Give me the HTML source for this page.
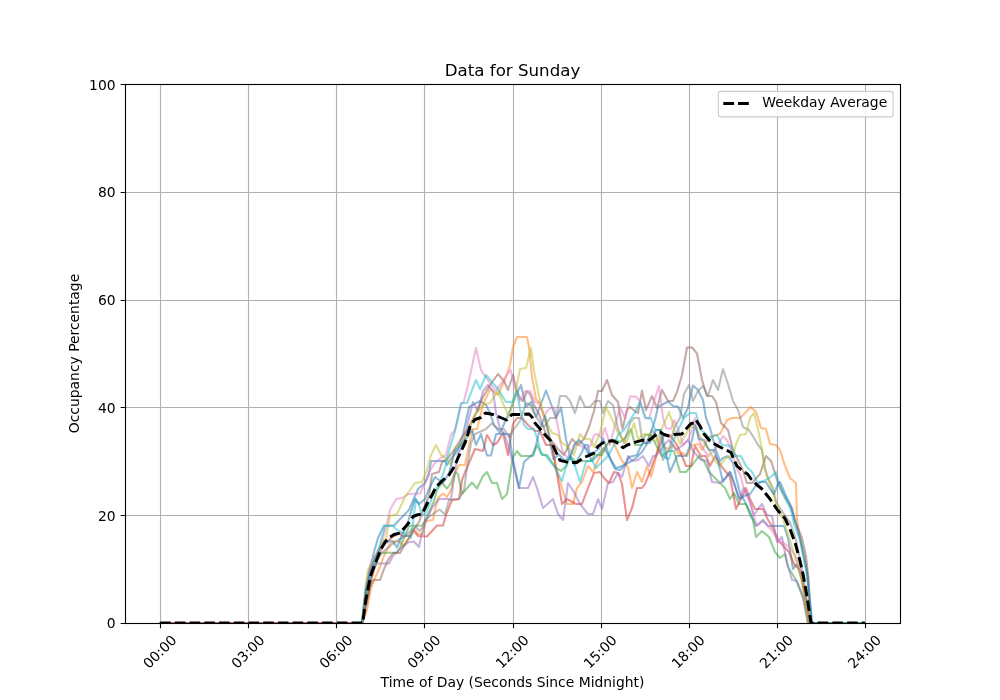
<!DOCTYPE html>
<html lang="en"><head><meta charset="utf-8"><title>Data for Sunday</title>
<style>html,body{margin:0;padding:0;background:#fff;}body{width:1000px;height:700px;overflow:hidden;}svg{display:block;}text{font-family:"DejaVu Sans","Liberation Sans",sans-serif;fill:#000;}</style></head><body>
<svg width="1000" height="700" viewBox="0 0 1000 700">
<rect width="1000" height="700" fill="#fff"/>
<path d="M160.50 623.0V84.0M248.50 623.0V84.0M336.50 623.0V84.0M424.50 623.0V84.0M513.50 623.0V84.0M601.50 623.0V84.0M689.50 623.0V84.0M777.50 623.0V84.0M865.50 623.0V84.0M125.0 623.50H900.0M125.0 515.50H900.0M125.0 407.50H900.0M125.0 300.50H900.0M125.0 192.50H900.0M125.0 84.50H900.0" stroke="#b0b0b0" stroke-width="1.11" fill="none"/>
<path d="M160.50 623.5v4.86M248.50 623.5v4.86M336.50 623.5v4.86M424.50 623.5v4.86M513.50 623.5v4.86M601.50 623.5v4.86M689.50 623.5v4.86M777.50 623.5v4.86M865.50 623.5v4.86M125.5 623.50h-4.86M125.5 515.50h-4.86M125.5 407.50h-4.86M125.5 300.50h-4.86M125.5 192.50h-4.86M125.5 84.50h-4.86" stroke="#000" stroke-width="1.11" fill="none"/>
<defs><clipPath id="c"><rect x="125.0" y="84.0" width="775.0" height="539.0"/></clipPath></defs>
<g clip-path="url(#c)" fill="none" stroke-linejoin="round" stroke-linecap="square">
<path d="M160.2 623.0 362.0 623.0 366.0 588.0 370.0 568.0 374.0 552.0 378.0 538.0 384.0 525.5 394.0 525.5 405.0 514.0 409.0 510.0 418.0 489.0 425.0 483.0 429.0 474.0 431.0 461.0 445.0 461.0 447.0 465.0 450.0 460.0 458.0 450.0 463.0 435.0 469.0 407.0 480.0 401.0 486.0 405.0 490.0 413.0 494.0 425.0 500.0 433.0 509.0 413.0 516.0 395.0 521.0 385.0 526.0 407.0 531.0 402.0 536.0 417.0 541.0 404.0 546.0 390.5 551.0 404.0 556.0 418.0 561.0 407.5 566.0 439.0 570.0 457.0 575.0 465.0 579.0 457.0 582.0 452.0 585.0 445.0 588.0 445.0 590.0 457.0 592.0 461.0 598.0 455.0 604.0 448.0 610.0 458.0 616.0 468.0 622.0 466.0 630.0 462.0 636.0 458.0 642.0 452.0 647.0 444.0 651.0 432.0 655.0 420.0 658.0 407.0 668.0 401.5 673.0 406.0 678.0 406.5 683.0 418.0 688.0 408.0 689.5 400.0 693.0 385.5 698.0 390.0 703.0 400.0 706.0 418.0 710.0 428.0 716.0 450.0 720.0 461.0 723.0 458.0 728.0 456.0 733.0 463.0 736.0 477.0 740.0 493.0 744.0 500.0 750.0 512.0 756.0 526.0 763.0 520.0 768.0 526.0 784.0 526.0 788.0 538.0 793.0 569.0 797.0 564.0 802.0 580.0 806.0 602.0 809.0 623.0 864.8 623.0" stroke="#1f77b4" stroke-opacity="0.5" stroke-width="2.08"/>
<path d="M160.2 623.0 362.0 623.0 367.0 610.0 371.0 588.0 375.0 578.0 379.0 569.0 384.0 556.0 390.0 544.0 393.0 541.5 400.0 541.5 403.0 546.0 409.0 538.0 412.0 530.0 415.0 530.0 418.0 534.0 423.0 534.0 426.0 521.0 433.0 520.0 436.0 506.0 438.0 498.0 443.0 493.5 447.0 497.0 451.0 490.0 455.0 474.0 459.0 465.0 465.0 465.0 469.0 445.0 473.0 429.0 477.0 429.0 483.0 405.0 490.0 389.0 498.0 395.0 506.0 377.0 510.0 365.0 513.0 347.0 517.0 337.0 527.0 337.0 529.0 347.0 532.0 377.0 536.0 399.0 540.0 403.0 544.0 417.0 548.0 431.0 552.0 445.0 556.0 468.0 562.0 488.0 567.0 504.0 573.0 504.0 577.0 488.0 582.0 482.0 588.0 466.0 593.0 472.0 600.0 456.0 606.0 445.0 612.0 440.0 617.0 450.0 622.0 461.0 628.0 467.0 632.0 488.0 637.0 472.0 642.0 482.0 647.0 466.0 651.0 477.0 656.0 458.0 660.0 437.0 664.0 447.0 668.0 449.0 674.0 445.0 679.0 455.0 683.0 453.0 687.0 456.0 692.0 445.0 699.0 444.0 702.0 450.0 709.0 437.0 720.0 434.0 727.0 420.0 732.0 418.0 740.0 418.0 746.0 412.0 751.0 407.0 756.0 412.0 761.0 428.0 766.0 429.0 770.0 444.0 776.0 445.0 780.0 450.0 785.0 466.0 790.0 478.0 796.0 483.0 797.0 520.0 800.0 538.0 804.0 556.0 807.0 570.0 810.0 623.0 864.8 623.0" stroke="#ff7f0e" stroke-opacity="0.5" stroke-width="2.08"/>
<path d="M160.2 623.0 362.0 623.0 367.0 598.0 372.0 576.0 377.0 562.0 380.0 553.0 397.0 552.5 400.0 548.0 404.0 538.0 409.0 526.0 422.0 525.5 425.0 521.0 430.0 510.0 434.0 501.0 437.0 490.0 442.0 483.0 447.0 488.5 451.0 483.0 455.0 472.0 458.0 474.0 462.0 494.0 472.0 482.5 477.0 488.5 483.0 476.0 487.0 472.0 492.0 483.0 497.0 483.0 502.0 499.0 507.0 494.0 513.0 457.0 517.0 451.0 521.0 456.0 533.0 456.0 537.0 445.0 542.0 455.0 547.0 455.0 555.0 467.0 561.0 471.0 567.0 465.0 570.0 456.0 575.0 461.0 591.0 461.0 595.0 455.0 602.0 455.0 607.0 445.0 611.0 440.0 615.0 440.0 620.0 442.0 625.0 438.0 631.0 429.0 635.0 445.0 642.0 445.0 645.0 435.0 651.0 435.0 656.0 445.0 662.0 456.0 668.0 451.0 674.0 451.0 680.0 472.0 686.0 472.0 693.0 464.0 699.0 456.0 704.0 461.0 709.0 472.0 714.0 477.0 720.0 483.0 725.0 488.0 730.0 499.0 734.0 493.0 739.0 504.0 746.0 504.0 750.0 515.0 753.0 520.0 756.0 537.0 762.0 531.0 769.0 537.0 775.0 552.0 780.0 558.0 785.0 554.0 788.0 567.0 796.0 580.0 804.0 600.0 808.0 623.0 864.8 623.0" stroke="#2ca02c" stroke-opacity="0.5" stroke-width="2.08"/>
<path d="M160.2 623.0 362.0 623.0 367.0 598.0 371.0 580.0 376.0 562.0 381.0 550.0 385.0 543.0 389.0 540.0 394.0 536.0 400.0 533.0 402.0 536.0 410.0 536.0 414.0 531.0 418.0 536.0 427.0 536.5 437.0 525.5 443.0 525.5 446.0 515.0 452.0 500.0 459.0 499.0 462.0 480.0 466.0 470.0 475.0 449.0 483.0 451.0 487.0 435.0 493.0 445.0 497.0 443.0 503.0 433.0 508.0 455.0 513.0 424.0 517.0 418.0 522.0 418.0 528.0 425.0 535.0 431.0 540.0 431.0 546.0 445.0 552.0 445.0 557.0 474.0 562.0 504.0 567.0 499.0 576.0 504.0 582.0 504.0 588.0 488.0 594.0 473.0 600.0 472.0 604.0 478.0 609.0 483.0 614.0 472.0 618.0 473.0 622.0 484.0 627.0 520.0 632.0 508.0 637.0 488.0 642.0 488.0 645.0 484.0 650.0 472.0 653.0 463.0 658.0 450.0 664.0 435.0 670.0 435.0 677.0 445.0 682.0 456.0 686.0 466.0 691.0 466.0 695.0 446.0 701.0 456.0 706.0 456.0 710.0 466.0 715.0 456.0 722.0 467.0 726.0 472.0 730.0 477.0 736.0 509.0 741.0 499.0 746.0 488.0 750.0 499.0 755.0 509.0 763.0 509.0 768.0 520.0 772.0 526.0 778.0 540.0 789.0 552.0 794.0 564.0 800.0 570.0 804.0 590.0 809.0 623.0 864.8 623.0" stroke="#d62728" stroke-opacity="0.5" stroke-width="2.08"/>
<path d="M160.2 623.0 362.0 623.0 366.0 590.0 371.0 566.0 378.0 563.5 389.0 563.5 393.0 556.0 397.0 552.0 402.0 547.0 409.0 542.0 414.0 541.5 419.0 547.0 422.0 533.0 425.0 523.0 432.0 508.0 439.0 499.0 451.0 499.0 454.5 475.0 458.0 453.5 461.5 448.0 466.0 432.0 468.5 420.0 473.0 402.0 478.0 411.0 483.0 391.0 488.0 385.0 493.0 391.0 496.0 413.0 500.0 429.0 504.0 433.0 508.0 445.0 512.0 460.0 519.0 488.0 528.0 488.0 533.0 477.0 537.0 488.0 543.0 508.0 553.0 499.0 558.0 514.0 563.0 520.0 568.0 483.0 574.0 492.0 580.0 504.0 588.0 514.0 593.0 514.0 598.0 499.0 602.0 509.0 608.0 483.0 613.0 482.0 618.0 473.0 622.0 477.0 628.0 456.0 632.0 461.0 638.0 460.0 643.0 456.0 649.0 466.0 653.0 456.0 656.0 456.0 661.0 450.0 664.0 445.0 669.0 440.0 676.0 450.0 683.0 445.0 688.0 440.0 693.0 451.0 701.0 460.0 707.0 461.0 712.0 482.0 720.0 483.0 726.0 477.0 730.0 472.0 734.0 484.0 739.0 498.0 744.0 488.0 749.0 499.0 754.0 515.0 758.0 509.0 762.0 504.0 767.0 515.0 772.0 516.0 777.0 542.0 782.0 537.0 787.0 563.0 792.0 580.0 797.0 581.0 802.0 594.0 808.0 623.0 864.8 623.0" stroke="#9467bd" stroke-opacity="0.5" stroke-width="2.08"/>
<path d="M160.2 623.0 362.0 623.0 367.0 602.0 371.0 584.0 373.5 580.0 380.0 580.0 384.0 569.0 388.0 560.0 393.0 553.0 400.0 553.0 404.0 546.0 409.0 538.0 414.0 529.0 419.0 522.0 424.0 508.0 429.0 496.0 432.0 474.0 439.0 472.0 442.0 462.0 447.0 459.0 455.0 449.0 462.0 437.0 468.0 429.0 476.0 413.0 483.0 397.0 490.0 385.0 498.0 374.0 504.0 381.0 508.0 390.0 513.0 375.0 517.0 391.0 520.0 398.0 523.0 401.0 527.0 391.5 530.0 394.0 534.0 405.0 539.0 414.0 542.0 423.0 546.0 434.0 550.0 439.0 558.0 449.0 564.0 455.0 572.0 439.0 578.0 445.0 584.0 439.0 589.0 427.0 594.0 411.0 598.0 391.0 602.0 391.0 607.0 380.0 612.0 395.0 618.0 402.0 619.5 412.0 622.5 429.0 627.0 410.0 630.0 407.0 636.0 412.0 638.0 413.0 642.0 390.5 646.0 410.0 652.0 396.0 657.0 408.0 662.0 390.0 668.0 401.0 673.0 401.0 677.0 392.0 682.0 375.0 687.0 347.5 692.0 347.5 697.0 353.5 702.0 380.0 707.0 396.0 712.0 396.0 716.0 402.0 721.0 423.0 728.0 430.0 733.0 450.0 738.0 460.0 742.0 468.0 747.0 483.0 752.0 483.0 760.0 474.0 766.0 456.0 771.0 461.0 778.0 483.0 786.0 499.0 792.0 508.0 795.0 522.0 797.0 526.0 802.0 538.0 806.0 556.0 808.0 574.0 811.0 623.0 864.8 623.0" stroke="#8c564b" stroke-opacity="0.5" stroke-width="2.08"/>
<path d="M160.2 623.0 362.0 623.0 366.0 585.0 370.0 566.0 375.0 556.0 381.0 545.0 387.0 523.0 390.0 510.0 396.0 499.0 402.0 498.0 408.0 494.0 420.0 493.5 425.0 483.0 429.0 472.0 435.0 463.0 441.0 458.0 446.0 455.0 451.0 435.0 455.0 430.0 461.0 405.0 464.0 401.0 468.0 385.0 476.0 348.0 481.0 370.0 487.0 379.0 496.0 391.0 500.0 385.0 510.5 369.5 514.0 385.0 520.0 401.0 525.0 391.0 530.0 391.0 535.0 402.0 539.0 403.0 544.0 416.0 548.0 410.0 552.0 407.0 554.5 408.0 556.0 418.0 559.0 432.0 560.0 440.0 563.0 453.0 568.0 458.0 572.0 452.0 575.0 445.0 579.0 445.0 587.0 449.0 591.0 445.0 594.0 435.0 598.0 434.0 601.0 438.0 605.0 428.0 610.0 445.0 614.0 429.0 620.0 407.0 625.0 418.0 630.0 396.5 635.5 396.5 640.0 401.0 646.0 418.0 649.0 419.0 654.0 401.0 659.0 386.0 663.0 418.0 666.0 428.0 671.0 429.0 674.0 420.0 678.0 429.0 683.0 445.0 688.0 440.0 692.0 429.0 695.0 418.0 699.0 440.0 704.0 450.0 709.0 456.0 714.0 450.0 718.0 445.0 723.0 436.0 727.0 440.0 731.0 450.0 736.0 466.0 741.0 477.0 744.0 490.0 749.0 500.0 752.0 510.0 757.0 526.0 763.0 521.0 768.0 526.0 773.0 532.0 778.0 541.0 784.0 543.0 790.0 548.0 795.0 555.0 799.0 565.0 802.0 574.0 805.0 590.0 807.5 608.0 809.5 623.0 864.8 623.0" stroke="#e377c2" stroke-opacity="0.5" stroke-width="2.08"/>
<path d="M362.0 623.0 367.0 592.0 371.0 574.0 377.0 560.0 383.0 552.0 390.0 546.0 398.0 540.0 406.0 536.0 411.0 530.0 416.0 527.0 419.5 531.0 423.0 527.0 425.0 520.0 433.0 514.0 439.5 509.5 445.0 514.5 449.0 500.0 459.0 499.0 464.0 490.0 467.0 468.0 471.0 443.0 475.0 434.0 486.0 429.0 492.0 423.0 498.0 429.0 504.0 429.0 509.0 437.0 514.0 429.0 520.0 421.0 526.0 403.0 530.0 405.0 534.0 413.0 540.0 423.0 544.0 427.0 550.0 418.0 556.0 418.0 560.0 396.0 566.0 396.0 570.0 401.0 575.0 413.0 580.0 396.0 585.0 407.0 590.0 407.0 595.0 401.0 600.0 401.0 603.0 413.0 608.0 401.0 613.0 405.0 618.0 429.0 624.0 443.0 630.0 423.0 634.0 418.0 639.0 418.0 642.0 439.0 646.0 444.0 652.0 430.0 657.0 438.0 663.0 460.0 669.0 450.0 674.0 428.0 680.0 418.0 684.0 394.0 689.0 385.0 693.0 401.0 698.0 391.0 703.0 386.0 708.0 396.0 713.0 380.0 718.0 390.0 723.0 369.0 728.0 384.0 733.0 401.0 738.0 410.0 743.0 427.0 749.0 430.0 754.0 438.0 758.0 445.0 762.0 450.0 765.0 468.0 768.0 478.0 773.0 488.0 776.0 502.0 784.0 514.0 790.0 522.0 796.0 540.0 802.0 570.0 806.0 596.0 809.0 623.0 864.8 623.0" stroke="#7f7f7f" stroke-opacity="0.5" stroke-width="2.08"/>
<path d="M362.0 623.0 365.0 590.0 368.0 570.0 374.0 560.0 379.0 548.0 383.0 541.0 386.0 538.0 390.0 516.0 397.0 514.0 405.0 497.0 415.0 483.0 422.0 482.0 427.0 470.0 431.0 455.0 436.0 445.0 441.0 455.0 446.0 458.0 451.0 465.0 455.0 447.0 462.0 443.0 468.0 431.0 475.0 415.0 483.0 405.0 490.0 403.0 498.0 391.0 502.0 401.0 509.0 417.0 515.0 395.0 520.0 369.0 526.0 368.0 531.0 348.0 534.0 371.0 538.0 391.0 542.0 409.0 548.0 425.0 552.0 433.0 558.0 435.0 562.0 443.0 568.0 447.0 574.0 455.0 580.0 434.0 584.0 439.0 590.0 439.0 594.0 447.0 600.0 433.0 606.0 407.0 612.0 419.0 618.0 433.0 626.0 443.0 632.0 429.0 634.0 423.0 638.0 439.0 644.0 434.0 650.0 434.0 656.0 442.0 663.0 426.0 669.0 412.0 674.0 428.0 680.0 444.0 686.0 434.0 691.0 426.0 696.0 428.0 702.0 440.0 709.0 450.0 715.0 461.0 720.0 466.0 726.0 458.0 733.0 456.0 736.0 444.0 740.0 435.0 746.0 434.0 750.0 418.0 754.0 413.0 758.0 429.0 762.0 450.0 765.0 471.0 770.0 484.0 776.0 503.0 782.0 516.0 786.0 528.0 790.0 540.0 794.0 554.0 800.0 574.0 804.0 594.0 808.0 623.0 864.8 623.0" stroke="#bcbd22" stroke-opacity="0.5" stroke-width="2.08"/>
<path d="M362.0 623.0 366.0 590.0 371.0 572.0 377.0 556.0 381.0 540.0 385.0 526.0 393.0 526.0 396.0 529.0 399.0 531.0 405.0 534.0 411.0 538.0 416.0 499.0 419.0 505.0 421.5 514.0 425.0 515.0 429.0 505.0 434.0 493.0 441.0 480.0 445.0 468.0 449.0 451.0 455.0 431.0 461.0 403.0 467.0 403.0 476.0 380.0 480.0 389.0 486.0 375.0 492.0 382.0 498.0 389.0 506.0 402.0 512.0 402.0 517.0 391.0 520.0 409.0 524.0 425.0 528.0 429.0 534.0 429.0 538.0 441.0 541.0 453.0 546.0 456.0 554.0 466.0 562.0 481.0 569.0 456.0 575.0 466.0 580.0 482.0 586.0 462.0 592.0 460.0 596.0 468.0 602.0 462.0 608.0 456.0 614.0 445.0 618.0 435.0 624.0 430.0 630.0 420.0 634.0 414.0 640.0 402.0 645.0 418.0 651.0 418.0 655.0 430.0 660.0 430.0 664.0 457.0 669.0 459.0 673.0 442.0 678.0 430.0 684.0 418.0 690.0 413.0 696.0 413.0 700.0 429.0 706.0 434.0 710.0 439.0 713.0 436.0 717.0 435.0 722.0 445.0 731.0 446.0 735.0 456.0 741.0 456.0 746.0 466.0 752.0 472.0 758.0 483.0 766.0 480.0 772.0 476.0 776.0 472.0 780.0 488.0 786.0 500.0 791.0 510.0 794.0 524.0 800.0 540.0 803.0 556.0 806.0 570.0 810.0 602.0 812.0 623.0 864.8 623.0" stroke="#17becf" stroke-opacity="0.5" stroke-width="2.08"/>
<path d="M362.0 623.0 366.0 592.0 370.0 573.0 375.0 558.0 380.0 549.0 386.0 543.0 390.0 541.0 393.0 541.5 397.0 547.5 402.0 535.0 408.0 522.0 415.0 499.0 419.0 504.0 425.0 499.0 429.0 489.0 435.0 477.0 443.0 483.0 449.0 473.0 455.0 451.0 461.0 445.0 466.0 439.0 472.0 430.0 476.0 445.0 481.0 434.0 487.0 455.5 491.0 455.5 496.0 434.0 509.0 434.0 513.0 460.0 519.0 488.0 524.0 462.0 533.0 454.0 536.0 445.0 540.0 429.0 545.0 416.0 548.0 430.0 551.0 447.0 553.5 459.0 559.0 454.5 564.0 460.0 570.0 459.0 574.0 445.0 579.0 440.0 584.0 445.0 588.0 453.0 593.0 453.0 599.0 449.0 603.0 438.0 607.0 449.0 611.0 461.0 615.0 469.0 620.0 470.0 625.0 465.0 629.0 457.0 637.0 455.0 640.0 448.0 643.0 443.0 650.0 443.0 656.0 430.0 661.0 430.0 664.0 445.0 670.0 472.0 677.0 456.0 686.0 456.0 692.0 440.0 695.0 425.0 699.0 439.0 704.0 440.0 709.0 450.0 714.0 450.0 718.0 461.0 723.0 482.0 730.0 472.0 734.0 482.0 739.0 499.0 744.0 496.0 750.0 494.0 756.0 485.5 760.0 482.0 766.0 482.0 770.0 489.0 774.0 494.0 778.0 484.0 780.0 482.0 786.0 496.0 790.0 504.0 795.0 520.0 800.0 538.0 804.0 556.0 808.0 578.0 812.0 623.0 864.8 623.0" stroke="#1f77b4" stroke-opacity="0.5" stroke-width="2.08"/>
<path d="M160.2 623.0 362.7 623.0 366.0 599.0 370.5 576.0 373.0 569.0 377.0 559.0 381.0 549.0 385.0 542.0 390.0 537.0 394.0 534.5 400.0 533.0 403.0 529.5 407.0 525.0 411.0 520.0 413.0 516.5 417.0 515.0 422.0 514.0 424.0 510.0 428.0 502.0 432.0 495.0 436.0 487.0 442.0 481.0 449.0 475.0 454.0 467.0 460.0 453.5 465.0 443.0 467.0 437.0 470.5 425.0 475.0 419.5 481.0 417.5 485.5 413.0 493.0 414.5 500.5 417.5 506.5 420.0 512.0 414.5 520.0 414.5 529.0 414.0 532.0 417.0 535.0 423.0 541.0 430.0 547.0 437.0 551.0 441.0 556.0 452.0 560.0 460.4 568.4 462.5 576.8 462.5 583.8 457.6 593.6 453.4 597.8 446.4 604.8 441.5 613.2 440.8 618.8 443.6 623.0 447.8 627.2 445.0 635.6 442.2 642.6 440.1 646.8 441.5 652.0 438.0 658.0 433.0 660.0 432.0 664.0 434.5 669.0 436.0 674.0 434.5 682.0 434.0 685.0 430.0 691.0 423.5 694.0 423.0 696.0 420.0 700.0 426.0 704.0 434.0 709.0 440.0 713.0 443.0 718.0 446.0 724.0 449.0 731.0 452.5 734.0 460.0 737.0 466.0 741.0 469.5 748.0 474.5 751.0 479.0 757.0 485.0 761.5 488.5 770.0 499.0 777.5 510.0 785.0 518.5 790.0 529.0 795.5 544.0 800.0 561.0 803.0 574.0 806.5 593.5 809.5 613.0 811.0 623.0 864.8 623.0" stroke="#000" stroke-width="2.95" stroke-dasharray="10.5 4.22" stroke-linecap="butt"/>
</g>
<rect x="125.5" y="84.5" width="775.0" height="539.0" fill="none" stroke="#000" stroke-width="1.11"/>
<text x="115.6" y="628" font-size="13.89" text-anchor="end">0</text>
<text x="115.6" y="521" font-size="13.89" text-anchor="end">20</text>
<text x="115.6" y="413" font-size="13.89" text-anchor="end">40</text>
<text x="115.6" y="305" font-size="13.89" text-anchor="end">60</text>
<text x="115.6" y="197" font-size="13.89" text-anchor="end">80</text>
<text x="115.6" y="90" font-size="13.89" text-anchor="end">100</text>
<text font-size="13.89" text-anchor="middle" transform="translate(159.73 651.5) rotate(-45)" x="0" y="5.0">00:00</text>
<text font-size="13.89" text-anchor="middle" transform="translate(247.80 651.5) rotate(-45)" x="0" y="5.0">03:00</text>
<text font-size="13.89" text-anchor="middle" transform="translate(335.86 651.5) rotate(-45)" x="0" y="5.0">06:00</text>
<text font-size="13.89" text-anchor="middle" transform="translate(423.93 651.5) rotate(-45)" x="0" y="5.0">09:00</text>
<text font-size="13.89" text-anchor="middle" transform="translate(512.00 651.5) rotate(-45)" x="0" y="5.0">12:00</text>
<text font-size="13.89" text-anchor="middle" transform="translate(600.07 651.5) rotate(-45)" x="0" y="5.0">15:00</text>
<text font-size="13.89" text-anchor="middle" transform="translate(688.14 651.5) rotate(-45)" x="0" y="5.0">18:00</text>
<text font-size="13.89" text-anchor="middle" transform="translate(776.20 651.5) rotate(-45)" x="0" y="5.0">21:00</text>
<text font-size="13.89" text-anchor="middle" transform="translate(864.27 651.5) rotate(-45)" x="0" y="5.0">24:00</text>
<text x="512.5" y="75.6" font-size="16.67" text-anchor="middle">Data for Sunday</text>
<text x="512.5" y="686.6" font-size="13.89" text-anchor="middle">Time of Day (Seconds Since Midnight)</text>
<text font-size="13.89" text-anchor="middle" transform="translate(78.6 353.5) rotate(-90)">Occupancy Percentage</text>
<rect x="718.4" y="91.4" width="174.7" height="25.5" rx="2.8" ry="2.8" fill="#fff" fill-opacity="0.8" stroke="#ccc" stroke-width="1.11"/>
<path d="M723.3 103.5h28.4" stroke="#000" stroke-width="2.85" stroke-dasharray="10.8 3.92" fill="none"/>
<text x="762.3" y="107.3" font-size="13.89">Weekday Average</text>
</svg></body></html>
